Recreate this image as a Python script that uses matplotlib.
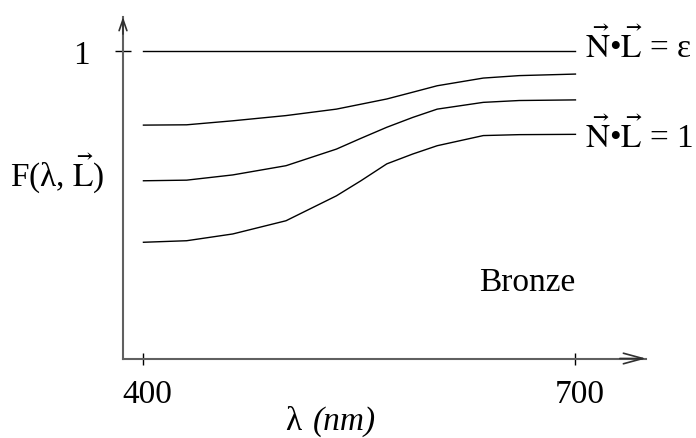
import matplotlib
matplotlib.use("Agg")
import matplotlib.pyplot as plt
import matplotlib.transforms as mtransforms

# ------------------ data ------------------
wavelength = [400, 430, 462, 499, 534, 551, 569, 587, 604, 636, 661, 700]
curve_eps = [1.0] * len(wavelength)   # N.L = epsilon
curve_a = [0.759, 0.760, 0.773, 0.790, 0.811, 0.827, 0.844, 0.866, 0.887, 0.912, 0.920, 0.925]
curve_b = [0.578, 0.580, 0.597, 0.627, 0.681, 0.716, 0.752, 0.784, 0.811, 0.833, 0.839, 0.841]
curve_c = [0.378, 0.383, 0.405, 0.448, 0.529, 0.578, 0.633, 0.665, 0.692, 0.725, 0.728, 0.729]  # N.L = 1
x_ticks = [400, 700]
x_tick_labels = ["400", "700"]
y_ticks = [1]
y_tick_labels = ["1"]
# --------------------------------------------------------------------

plt.rcParams["font.family"] = ["Liberation Serif", "DejaVu Serif"]
plt.rcParams["mathtext.fontset"] = "stix"

W, H = 696, 439
fig = plt.figure(figsize=(W / 100, H / 100), dpi=100)


def px(x, y):
    # pixel position (from top-left) -> figure fraction
    return x / W, 1 - y / H


ax = fig.add_axes([123 / W, (H - 359.5) / H, (646 - 123) / W, (359.5 - 18) / H])
ax.set_xlim(385.8, 749)
ax.set_ylim(0, 1.1106)

for s in ["top", "right"]:
    ax.spines[s].set_visible(False)
for s in ["left", "bottom"]:
    ax.spines[s].set_color("#606060")
    ax.spines[s].set_linewidth(1.5)

# arrow heads on the axes
ax.annotate("", xy=(1, 0), xytext=(0.95, 0), xycoords="axes fraction",
            arrowprops=dict(arrowstyle="->,head_length=14,head_width=3.8",
                            mutation_scale=1, color="#303030", lw=1.2,
                            shrinkA=0, shrinkB=0))
ax.annotate("", xy=(0, 1), xytext=(0, 0.95), xycoords="axes fraction",
            arrowprops=dict(arrowstyle="->,head_length=8,head_width=2.8",
                            mutation_scale=1, color="#303030", lw=1.2,
                            shrinkA=0, shrinkB=0))

for ys in [curve_eps, curve_a, curve_b, curve_c]:
    ax.plot(wavelength, ys, color="black", lw=1.0)

ax.set_xticks(x_ticks)
ax.set_xticklabels(x_tick_labels, fontsize=24)
ax.set_yticks(y_ticks)
ax.set_yticklabels(y_tick_labels, fontsize=24)
ax.tick_params(axis="x", direction="inout", length=8.6, width=1.0, color="black", pad=10)
ax.tick_params(axis="y", direction="inout", length=11.5, width=1.0, color="black", pad=18)

# nudge the x tick labels a little to the right, as in the reference
shift = mtransforms.ScaledTranslation(4 / 100, 0, fig.dpi_scale_trans)
for lab in ax.get_xticklabels():
    lab.set_transform(lab.get_transform() + shift)

fs = 24
fig.text(*px(57, 186), r"F(λ, $\vec{\mathrm{L}}$)", fontsize=fs, ha="center", va="baseline")
fig.text(*px(285, 430), "λ", fontsize=fs, ha="left", va="baseline")
fig.text(*px(376, 430), "(nm)", fontsize=fs, style="italic", ha="right", va="baseline")
fig.text(*px(585, 58), r"$\vec{\mathrm{N}}$•$\vec{\mathrm{L}}$ = ε", fontsize=fs, ha="left", va="baseline")
fig.text(*px(585, 148), r"$\vec{\mathrm{N}}$•$\vec{\mathrm{L}}$ = 1", fontsize=fs, ha="left", va="baseline")
fig.text(*px(479, 291), "Bronze", fontsize=fs, ha="left", va="baseline")

fig.savefig("out.png", dpi=100)
